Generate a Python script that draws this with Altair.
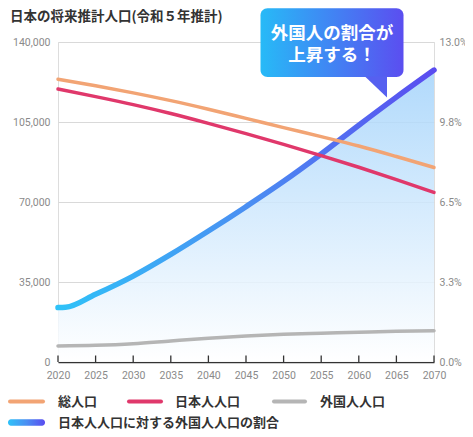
import altair as alt
import pandas as pd

TITLE = "日本の将来推計人口(令和５年推計)"
CALLOUT_1 = "外国人の割合が"
CALLOUT_2 = "上昇する！"
SERIES = ["総人口", "日本人人口", "外国人人口"]
RATIO_NAME = "日本人人口に対する外国人人口の割合"
SERIES_COLORS = ["#f2a474", "#e0386b", "#b5b5b5"]

YEARS = [2020, 2025, 2030, 2035, 2040, 2045, 2050, 2055, 2060, 2065, 2070]
TOTAL = [123700, 120850, 117750, 114350, 110600, 106600, 102550, 98600, 94500, 89900, 85100]
JAPANESE = [119400, 116100, 112600, 108700, 104400, 99900, 95200, 90300, 85200, 79800, 74200]
FOREIGN = [7000, 7300, 8000, 9200, 10350, 11350, 12100, 12550, 13000, 13400, 13700]
RATIO_YEARS = [2020, 2021, 2025, 2030, 2035, 2040, 2045, 2050, 2055, 2060, 2065, 2070]
RATIO = [2.21, 2.22, 2.75, 3.49, 4.37, 5.32, 6.31, 7.34, 8.45, 9.62, 10.76, 11.86]

LEFT_TICKS = [0, 35000, 70000, 105000, 140000]
RIGHT_TICKS = [0, 3.25, 6.5, 9.75, 13]

pop = pd.DataFrame({
    "year": YEARS * 3,
    "series": [SERIES[0]] * len(YEARS) + [SERIES[1]] * len(YEARS) + [SERIES[2]] * len(YEARS),
    "value": TOTAL + JAPANESE + FOREIGN,
})
ratio = pd.DataFrame({"year": RATIO_YEARS, "ratio": RATIO})
ticks = pd.DataFrame({"year": YEARS})
one = pd.DataFrame({"a": [0]})

JP = "Noto Sans CJK JP"
NUM = "Roboto"
LABEL_GRAY = "#8a8a8a"
DARK = "#333333"

xscale = alt.Scale(domain=[2020, 2070], nice=False)
xaxis = alt.Axis(values=YEARS, format="d", title=None, grid=False, ticks=False,
                 domainColor=DARK, domainWidth=1.5, labelColor=LABEL_GRAY,
                 labelFont=NUM, labelFontSize=10.5, labelPadding=8, labelFlush=False)

blue_h = alt.LinearGradient(gradient="linear",
                            stops=[alt.GradientStop(color="#2fc2f8", offset=0),
                                   alt.GradientStop(color="#4a8ff2", offset=0.5),
                                   alt.GradientStop(color="#5a4cf0", offset=1)],
                            x1=0, x2=1, y1=0, y2=0)
area_v = alt.LinearGradient(gradient="linear",
                            stops=[alt.GradientStop(color="#ffffff", offset=0),
                                   alt.GradientStop(color="#a3d3fb", offset=1)],
                            x1=0, x2=0, y1=1, y2=0)

rx = alt.X("year:Q", scale=xscale, axis=xaxis)
ry = alt.Y("ratio:Q", scale=alt.Scale(domain=[0, 13], nice=False),
           axis=alt.Axis(orient="right", values=RIGHT_TICKS,
                         labelExpr="format(datum.value, '.1f') + '%'",
                         title=None, grid=False, domain=False, ticks=False,
                         labelColor=LABEL_GRAY, labelFont=NUM, labelFontSize=10.5,
                         labelPadding=5))

ratio_area = alt.Chart(ratio).mark_area(interpolate="monotone", fill=area_v,
                                        fillOpacity=0.85).encode(x=rx, y=ry)
ratio_line = alt.Chart(ratio).mark_line(interpolate="monotone", stroke=blue_h,
                                        strokeWidth=5.5, strokeCap="round",
                                        strokeJoin="round").encode(x=rx, y=ry)
ratio_layer = alt.layer(ratio_area, ratio_line)

py = alt.Y("value:Q", scale=alt.Scale(domain=[0, 140000], nice=False),
           axis=alt.Axis(orient="left", values=LEFT_TICKS,
                         labelExpr="format(datum.value, ',')", title=None,
                         domain=False, ticks=False, grid=True, gridColor="#d9d9d9",
                         gridWidth=1, labelColor=LABEL_GRAY, labelFont=NUM,
                         labelFontSize=10.5, labelPadding=8))

pop_lines = alt.Chart(pop).mark_line(interpolate="monotone", strokeWidth=3.5,
                                     strokeCap="round").encode(
    x=alt.X("year:Q", scale=xscale, axis=xaxis),
    y=py,
    color=alt.Color("series:N", scale=alt.Scale(domain=SERIES, range=SERIES_COLORS),
                    legend=None),
    order=alt.Order("series:N"),
)

# upward tick marks on the x axis (decoration positioned by the x scale)
tick_rules = alt.Chart(ticks).mark_rule(color=DARK, strokeWidth=1.3).encode(
    x=alt.X("year:Q", scale=xscale, axis=xaxis),
    y=alt.value(313.5),
    y2=alt.value(320),
)

# Title
title = alt.Chart(one).mark_text(text=TITLE, font=JP, fontSize=13.5, fontWeight="bold",
                                 color=DARK, align="left", baseline="middle").encode(
    x=alt.value(-48), y=alt.value(-25))

# Callout
callout_fill = alt.LinearGradient(gradient="linear",
                                  stops=[alt.GradientStop(color="#27baf7", offset=0),
                                         alt.GradientStop(color="#5b4ef0", offset=1)],
                                  x1=0, x2=1, y1=0, y2=0)
callout_box = alt.Chart(one).mark_rect(cornerRadius=7, fill=callout_fill).encode(
    x=alt.value(202.5), x2=alt.value(345.5), y=alt.value(-33.7), y2=alt.value(35))
callout_tip = alt.Chart(one).mark_point(shape="M -1 -1 L 1 -1 L 1 0.9 Z", filled=True,
                                        fill="#5660f0", opacity=1, size=484,
                                        strokeWidth=0).encode(
    x=alt.value(318), y=alt.value(45.5))
callout_t1 = alt.Chart(one).mark_text(text=CALLOUT_1, font=JP, fontSize=17.5, fontWeight="bold",
                                      color="white", align="center", baseline="middle").encode(
    x=alt.value(274), y=alt.value(-8.5))
callout_t2 = alt.Chart(one).mark_text(text=CALLOUT_2, font=JP, fontSize=17.5, fontWeight="bold",
                                      color="white", align="center", baseline="middle").encode(
    x=alt.value(274), y=alt.value(13.5))


# Legend
def leg_line(color, x1, x2, y):
    return alt.Chart(one).mark_rule(color=color, strokeWidth=4, strokeCap="round").encode(
        x=alt.value(x1), x2=alt.value(x2), y=alt.value(y))


def leg_text(label, x, y):
    return alt.Chart(one).mark_text(text=label, font=JP, fontSize=13, fontWeight="bold",
                                    color=DARK, align="left", baseline="middle").encode(
        x=alt.value(x), y=alt.value(y))


ROW1 = 359.5
ROW2 = 380.5
legend = [
    leg_line(SERIES_COLORS[0], -48, -15, ROW1), leg_text(SERIES[0], 0, ROW1),
    leg_line(SERIES_COLORS[1], 71, 103, ROW1), leg_text(SERIES[1], 117, ROW1),
    leg_line(SERIES_COLORS[2], 216, 247, ROW1), leg_text(SERIES[2], 262, ROW1),
    alt.Chart(one).mark_rect(cornerRadius=3, fill=blue_h).encode(
        x=alt.value(-50), x2=alt.value(-13), y=alt.value(ROW2 - 3.2), y2=alt.value(ROW2 + 3.2)),
    leg_text(RATIO_NAME, 0, ROW2),
]

pop_layer = alt.layer(pop_lines, tick_rules)

chart = alt.layer(
    ratio_layer, pop_layer, title, callout_box, callout_tip, callout_t1, callout_t2, *legend
).resolve_scale(y="independent").properties(
    width=376, height=320,
    autosize=alt.AutoSizeParams(type="none"),
    padding={"left": 50, "top": 34, "right": 31, "bottom": 67},
).configure_view(stroke=None).configure(background="white")

chart.save("out.html", embed_options={"renderer": "svg", "actions": False})
